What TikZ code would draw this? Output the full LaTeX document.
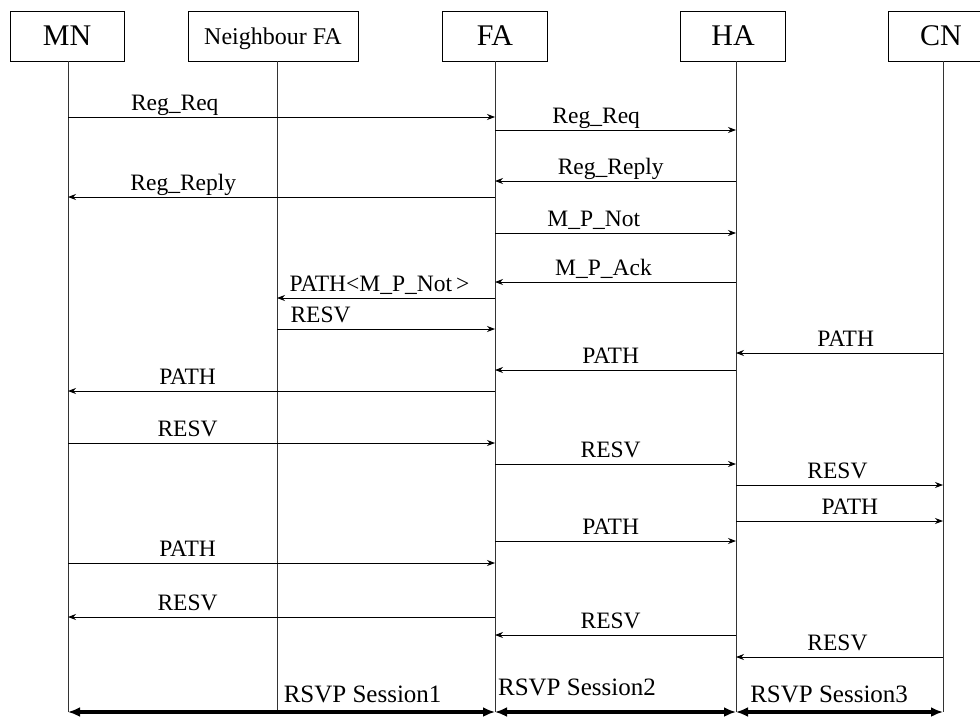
\documentclass[tikz,border=0pt]{standalone}
\usepackage{fontspec}
\setmainfont{Liberation Serif}
\usetikzlibrary{arrows.meta, calc}

\begin{document}
\begin{tikzpicture}[x=1pt, y=-1pt,
    ent/.style={draw, line width=0.8pt, minimum width=105pt, minimum height=50pt, inner sep=0pt, font=\fontsize{30}{36}\selectfont},
    life/.style={line width=0.8pt, black!80},
    msg/.style={-{Stealth[length=8pt, width=6pt]}, line width=0.8pt},
    lbl/.style={anchor=base, yshift=7pt, inner sep=0pt, font=\fontsize{23.5}{28}\selectfont},
    sess/.style={{Latex[length=12pt, width=10pt]}-{Latex[length=12pt, width=10pt]}, line width=3.2pt},
]
\clip (0,0) rectangle (980,718);

% entities
\node[ent, minimum width=114pt] (mn) at (67,36) {MN};
\node[ent, minimum width=170pt, text depth=0pt, font=\fontsize{24}{28}\selectfont] (nfa) at (273,36) {Neighbour FA};
\node[ent] (fa) at (495,36) {FA};
\node[ent] (ha) at (733,36) {HA};
\node[ent] (cn) at (941,36) {CN};

% lifeline ends
\coordinate (mnE) at (68,712);
\coordinate (nfaE) at (277,712);
\coordinate (faE) at (495,712);
\coordinate (haE) at (736,712);
\coordinate (cnE) at (943,712);

\draw[life] (mn.south -| mnE) -- (mnE);
\draw[life] (nfa.south -| nfaE) -- (nfaE);
\draw[life] (fa.south -| faE) -- (faE);
\draw[life] (ha.south -| haE) -- (haE);
\draw[life] (cn.south -| cnE) -- (cnE);

% registration
\draw[msg] (mnE |- 0,117) -- node[lbl, pos=.25] {Reg\_Req} (faE |- 0,117);
\draw[msg] (faE |- 0,130) -- node[lbl, pos=.42] {Reg\_Req} (haE |- 0,130);
\draw[msg] (haE |- 0,181) -- node[lbl, pos=.52] {Reg\_Reply} (faE |- 0,181);
\draw[msg] (faE |- 0,197) -- node[lbl, pos=.73] {Reg\_Reply} (mnE |- 0,197);
\draw[msg] (faE |- 0,233) -- node[lbl, pos=.41] {M\_P\_Not} (haE |- 0,233);
\draw[msg] (haE |- 0,282) -- node[lbl, pos=.55] {M\_P\_Ack} (faE |- 0,282);
\draw[msg] (faE |- 0,298) -- node[lbl, pos=.53] {PATH<M\_P\_Not\,>} (nfaE |- 0,298);
\draw[msg] (nfaE |- 0,329) -- node[lbl, pos=.2] {RESV} (faE |- 0,329);

% RSVP signalling
\draw[msg] (cnE |- 0,353) -- node[lbl, pos=.47] {PATH} (haE |- 0,353);
\draw[msg] (haE |- 0,370) -- node[lbl, pos=.52] {PATH} (faE |- 0,370);
\draw[msg] (faE |- 0,391) -- node[lbl, pos=.72] {PATH} (mnE |- 0,391);
\draw[msg] (mnE |- 0,443) -- node[lbl, pos=.28] {RESV} (faE |- 0,443);
\draw[msg] (faE |- 0,464) -- node[lbl, pos=.48] {RESV} (haE |- 0,464);
\draw[msg] (haE |- 0,485) -- node[lbl, pos=.49] {RESV} (cnE |- 0,485);
\draw[msg] (haE |- 0,521) -- node[lbl, pos=.55] {PATH} (cnE |- 0,521);
\draw[msg] (faE |- 0,541) -- node[lbl, pos=.48] {PATH} (haE |- 0,541);
\draw[msg] (mnE |- 0,563) -- node[lbl, pos=.28] {PATH} (faE |- 0,563);
\draw[msg] (faE |- 0,617) -- node[lbl, pos=.72] {RESV} (mnE |- 0,617);
\draw[msg] (haE |- 0,635) -- node[lbl, pos=.52] {RESV} (faE |- 0,635);
\draw[msg] (cnE |- 0,657) -- node[lbl, pos=.51] {RESV} (haE |- 0,657);

% sessions
\draw[sess] (mnE) -- node[lbl, pos=.69, yshift=3pt, font=\fontsize{25}{30}\selectfont] {RSVP Session1} (faE);
\draw[sess] (faE) -- node[lbl, pos=.34, yshift=10pt, font=\fontsize{25}{30}\selectfont] {RSVP Session2} (haE);
\draw[sess] (haE) -- node[lbl, pos=.45, yshift=3pt, font=\fontsize{25}{30}\selectfont] {RSVP Session3} (cnE);

\end{tikzpicture}
\end{document}
